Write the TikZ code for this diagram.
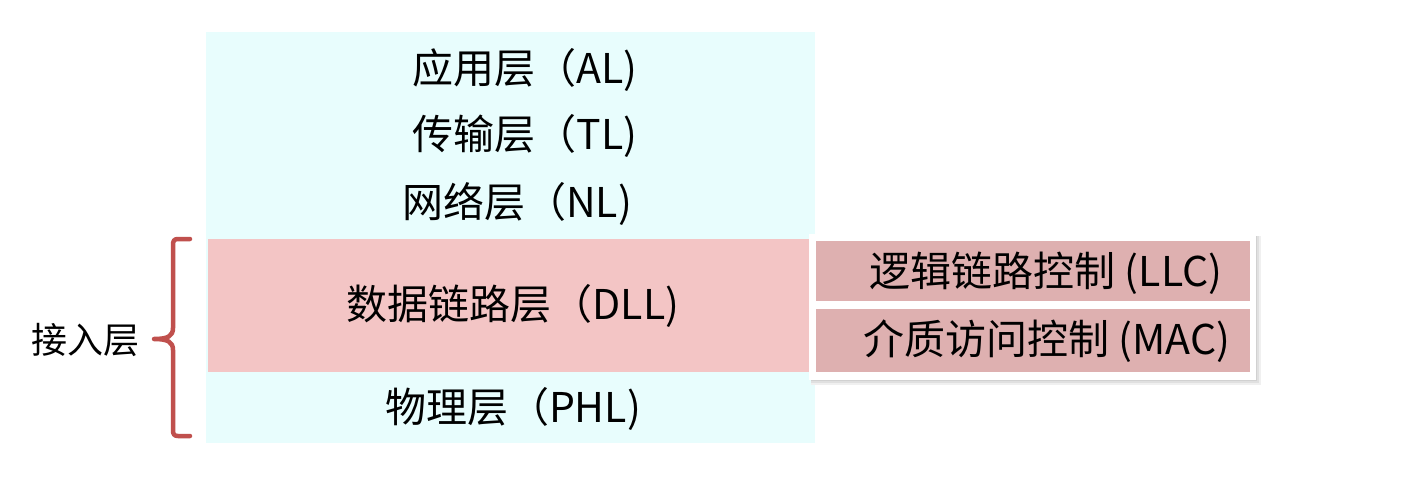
\documentclass[tikz,border=0pt]{standalone}
\usepackage{fontspec}
\setmainfont{Noto Sans CJK SC}
\newfontfamily\cjk{Noto Sans CJK SC}
\definecolor{bgcyan}{HTML}{E8FDFD}
\definecolor{dllpink}{HTML}{F3C5C5}
\definecolor{subpink}{HTML}{DEB0B0}
\definecolor{bracered}{HTML}{C0504D}
\tikzset{
  lay/.style={font=\fontsize{41}{41}\selectfont\cjk, inner sep=0pt, anchor=center},
  subbox/.style={fill=subpink, draw=none},
}
\begin{document}
\begin{tikzpicture}[x=1pt,y=-1pt]
\useasboundingbox (0,0) rectangle (1419,499);
\fill[white] (0,0) rectangle (1419,499);
% cyan column
\fill[bgcyan] (206,32) rectangle (815,443);
\fill[dllpink] (208,239) rectangle (812,372);
% right container with soft shadow
\fill[black!6] (811,236) rectangle (1261,385);
\fill[black!12] (811,236) rectangle (1259,383);
\fill[black!18] (811,236) rectangle (1257,381);
\fill[white] (809,234) rectangle (1256,380);
\node[subbox, minimum width=434pt, minimum height=60pt, anchor=north west] (llcbox) at (816,241) {};
\node[subbox, minimum width=434pt, minimum height=63pt, anchor=north west] (macbox) at (816,309) {};
% texts
\node[lay] (al) at (525,70) {应用层（AL)};
\node[lay] (tl) at (525,136) {传输层（TL)};
\node[lay] (nl) at (517,204) {网络层（NL)};
\node[lay] (dll) at (513,306) {数据链路层（DLL)};
\node[lay] (phl) at (513,409) {物理层（PHL)};
\node[lay] (llc) at (1046,273) {逻辑链路控制 (LLC)};
\node[lay] (mac) at (1047,341) {介质访问控制 (MAC)};
% brace
\coordinate (btop) at (190,239);
\coordinate (bbot) at (190,436);
\coordinate (btip) at (154,339);
\draw[bracered, line width=4.5pt, line cap=round, line join=round]
  (btop) -- (178,239) .. controls (174,239) and (173,241) .. (173,245)
  -- (173,328) .. controls (173,336) and (168,339) .. (btip)
  .. controls (168,339) and (173,342) .. (173,350)
  -- (173,430) .. controls (173,434) and (174,436) .. (178,436) -- (bbot);
\node[font=\fontsize{36}{36}\selectfont\cjk, inner sep=0pt] (acc) at (85,340) {接入层};
\end{tikzpicture}
\end{document}
